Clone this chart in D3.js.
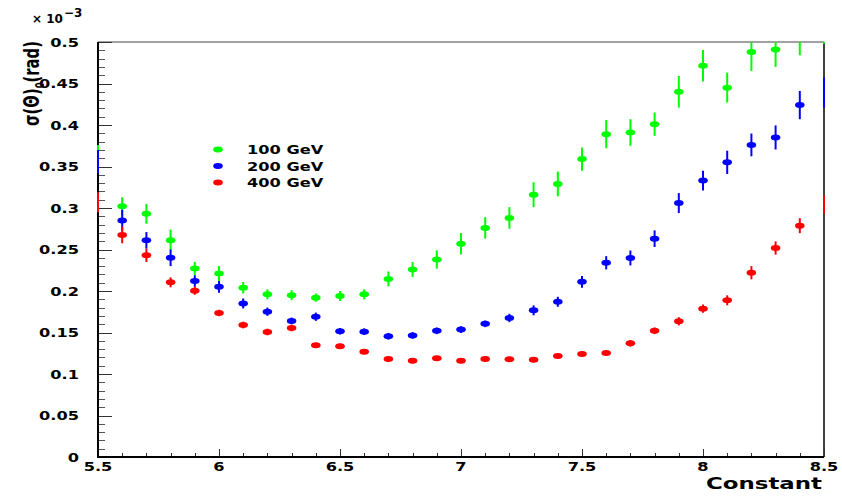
<!DOCTYPE html>
<html>
<head>
<meta charset="utf-8">
<script src="https://cdn.jsdelivr.net/npm/d3@7"></script>
<style>
  html, body { margin: 0; padding: 0; background: #fff; }
  svg text { font-family: "DejaVu Sans", sans-serif; font-weight: bold; fill: #000; }
</style>
</head>
<body>
<svg id="chart" width="842" height="496"></svg>
<script>
/* sigma(Theta) vs Constant, three beam energies */

const xValues = [5.5, 5.6, 5.7, 5.8, 5.9, 6.0, 6.1, 6.2, 6.3, 6.4, 6.5, 6.6, 6.7, 6.8, 6.9, 7.0,
  7.1, 7.2, 7.3, 7.4, 7.5, 7.6, 7.7, 7.8, 7.9, 8.0, 8.1, 8.2, 8.3, 8.4, 8.5];

// values in units of 1e-3 rad
const green100 = [0.360, 0.302, 0.293, 0.261, 0.227, 0.221, 0.204, 0.196, 0.195, 0.192, 0.194, 0.196,
  0.2145, 0.226, 0.238, 0.257, 0.276, 0.288, 0.316, 0.329, 0.359, 0.389, 0.391, 0.401, 0.440,
  0.4715, 0.445, 0.488, 0.491, 0.510, 0.525];
const green100Err = [0.016, 0.011, 0.012, 0.013, 0.008, 0.009, 0.007, 0.006, 0.006, 0.005, 0.006, 0.006,
  0.009, 0.009, 0.011, 0.013, 0.013, 0.013, 0.015, 0.015, 0.014, 0.017, 0.016, 0.014, 0.019,
  0.019, 0.018, 0.023, 0.021, 0.026, 0.027];

const blue200 = [0.356, 0.285, 0.261, 0.240, 0.212, 0.205, 0.185, 0.175, 0.164, 0.169, 0.1515, 0.151,
  0.1455, 0.1465, 0.152, 0.1535, 0.1605, 0.1675, 0.1767, 0.187, 0.211, 0.234, 0.2398, 0.263, 0.306,
  0.333, 0.355, 0.376, 0.385, 0.424, 0.439];
const blue200Err = [0.014, 0.013, 0.010, 0.010, 0.007, 0.007, 0.006, 0.005, 0.004, 0.005, 0.004, 0.004,
  0.004, 0.004, 0.004, 0.004, 0.004, 0.005, 0.006, 0.006, 0.007, 0.008, 0.009, 0.010, 0.012,
  0.012, 0.014, 0.0137, 0.0145, 0.017, 0.018];

const red400 = [0.307, 0.2675, 0.243, 0.2104, 0.2004, 0.1735, 0.159, 0.1506, 0.1554, 0.1345, 0.1334, 0.1269,
  0.118, 0.116, 0.1189, 0.116, 0.118, 0.1177, 0.1173, 0.1217, 0.124, 0.1253, 0.137, 0.152, 0.1635,
  0.1787, 0.1888, 0.222, 0.2518, 0.2787, 0.304];
const red400Err = [0.012, 0.010, 0.008, 0.006, 0.005, 0.004, 0.004, 0.004, 0.004, 0.003, 0.003, 0.003,
  0.003, 0.003, 0.003, 0.003, 0.003, 0.003, 0.003, 0.003, 0.003, 0.003, 0.004, 0.004, 0.005,
  0.005, 0.006, 0.008, 0.008, 0.009, 0.011];

const seriesNames = ["100 GeV", "200 GeV", "400 GeV"];
const seriesColors = ["#00ff00", "#0000ff", "#ff0000"];

const yTickLabels = ["0", "0.05", "0.1", "0.15", "0.2", "0.25", "0.3", "0.35", "0.4", "0.45", "0.5"];
const xTickLabels = ["5.5", "6", "6.5", "7", "7.5", "8", "8.5"];

const series = [
  { name: seriesNames[0], color: seriesColors[0], values: green100, errors: green100Err },
  { name: seriesNames[1], color: seriesColors[1], values: blue200, errors: blue200Err },
  { name: seriesNames[2], color: seriesColors[2], values: red400, errors: red400Err },
];

const svg = d3.select("#chart");
const frame = { left: 98, right: 824, top: 42, bottom: 457 };

const x = d3.scaleLinear().domain([5.5, 8.5]).range([frame.left, frame.right]);
const y = d3.scaleLinear().domain([0, 0.5]).range([frame.bottom, frame.top]);

const SX = 1.35; // ROOT font is wide and short

function wideText(g, px, py, str, anchor, size) {
  const t = g.append("text")
    .attr("transform", `translate(${px},${py}) scale(${SX},1)`)
    .attr("text-anchor", anchor)
    .style("font-size", size + "px")
    .text(str);
  return t;
}

svg.append("clipPath").attr("id", "plot-clip")
  .append("rect")
  .attr("x", frame.left - 2).attr("y", frame.top)
  .attr("width", frame.right - frame.left + 4).attr("height", frame.bottom - frame.top);

svg.append("clipPath").attr("id", "marker-clip")
  .append("rect")
  .attr("x", frame.left).attr("y", frame.top)
  .attr("width", frame.right - frame.left).attr("height", frame.bottom - frame.top);

// Frame
svg.append("line").attr("x1", frame.left).attr("x2", frame.right)
  .attr("y1", frame.top).attr("y2", frame.top)
  .attr("stroke", "#444").attr("stroke-width", 1);
svg.append("line").attr("x1", frame.right).attr("x2", frame.right)
  .attr("y1", frame.top).attr("y2", frame.bottom)
  .attr("stroke", "#000").attr("stroke-width", 1.5);

// Ticks
const ticks = svg.append("g");
d3.range(0, 51).forEach(i => {
  const v = i / 100;
  const major = i % 5 === 0;
  ticks.append("line")
    .attr("x1", frame.left).attr("x2", frame.left + (major ? 14 : 7))
    .attr("y1", Math.round(y(v)) + 0.5).attr("y2", Math.round(y(v)) + 0.5)
    .attr("stroke", major ? "#333" : "#555").attr("stroke-width", 1);
});
d3.range(0, 31).forEach(i => {
  const v = 5.5 + i / 10;
  const major = i % 5 === 0;
  ticks.append("line")
    .attr("x1", Math.round(x(v)) + 0.5).attr("x2", Math.round(x(v)) + 0.5)
    .attr("y1", frame.bottom).attr("y2", frame.bottom - (major ? 8 : 4))
    .attr("stroke", "#333").attr("stroke-width", 1);
});

// Axis lines
svg.append("line").attr("x1", frame.left).attr("x2", frame.left)
  .attr("y1", frame.top).attr("y2", frame.bottom + 1)
  .attr("stroke", "#000").attr("stroke-width", 2);
svg.append("line").attr("x1", frame.left - 1).attr("x2", frame.right)
  .attr("y1", frame.bottom).attr("y2", frame.bottom)
  .attr("stroke", "#000").attr("stroke-width", 2);

// Tick labels
const labels = svg.append("g");
yTickLabels.forEach(lbl => {
  wideText(labels, 79, y(+lbl) + 4.5, lbl, "end", 12);
});
xTickLabels.forEach(lbl => {
  wideText(labels, x(+lbl), 471, lbl, "middle", 12);
});

// Axis titles
labels.append("text")
  .attr("x", 822).attr("y", 489)
  .attr("text-anchor", "end")
  .attr("textLength", 116).attr("lengthAdjust", "spacingAndGlyphs")
  .style("font-size", "15px")
  .text("Constant");

const yt = labels.append("text")
  .attr("transform", "translate(39,126) rotate(-90)")
  .style("font-size", "21px")
  .attr("textLength", 85).attr("lengthAdjust", "spacingAndGlyphs");
yt.append("tspan").text("σ(Θ)");
yt.append("tspan").attr("dy", 5).style("font-size", "12px").text("0");
yt.append("tspan").attr("dy", -5).text("(rad)");

// x 10^-3
const exp = labels.append("text").attr("x", 32).attr("y", 23).style("font-size", "12px");
exp.append("tspan").text("× 10");
exp.append("tspan").attr("dy", -6).attr("dx", 1).text("−3");

// Data
series.forEach(s => {
  const g = svg.append("g");
  const pts = xValues.map((xv, i) => ({ x: xv, v: s.values[i], e: s.errors[i] }));

  g.append("g").attr("clip-path", "url(#plot-clip)")
    .selectAll("line")
    .data(pts)
    .join("line")
    .attr("x1", d => x(d.x)).attr("x2", d => x(d.x))
    .attr("y1", d => y(d.v - d.e)).attr("y2", d => y(d.v + d.e))
    .attr("stroke", s.color)
    .attr("stroke-width", 2);

  g.append("g").attr("clip-path", "url(#marker-clip)")
    .selectAll("ellipse")
    .data(pts.filter(d => d.x > 5.55 && d.x < 8.45))
    .join("ellipse")
    .attr("cx", d => x(d.x)).attr("cy", d => y(d.v))
    .attr("rx", 4.8).attr("ry", 3)
    .attr("fill", s.color);
});

// Legend
const legend = svg.append("g");
series.forEach((s, i) => {
  const ly = 149.5 + i * 16.5;
  legend.append("ellipse")
    .attr("cx", 218).attr("cy", ly)
    .attr("rx", 4.8).attr("ry", 3)
    .attr("fill", s.color);
  wideText(legend, 247, ly + 4.5, s.name, "start", 12);
});
</script>
</body>
</html>
